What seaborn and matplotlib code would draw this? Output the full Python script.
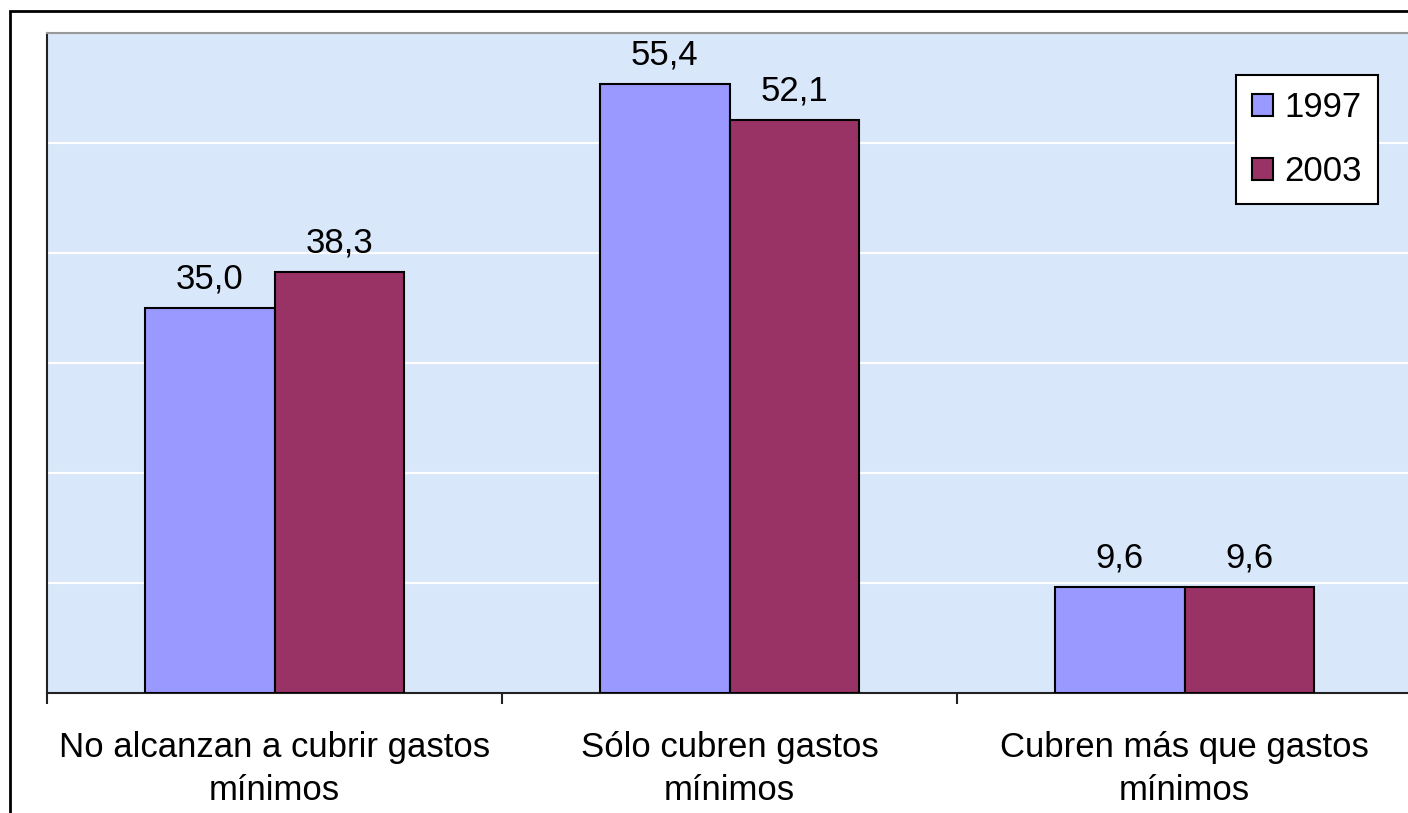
import seaborn as sns
import pandas as pd
import matplotlib.pyplot as plt
from matplotlib.patches import Rectangle

categories = ["No alcanzan a cubrir gastos\nmínimos",
              "Sólo cubren gastos\nmínimos",
              "Cubren más que gastos\nmínimos"]
years = ["1997", "2003"]
v1997 = [35.0, 55.4, 9.6]
v2003 = [38.3, 52.1, 9.6]
colors = ["#9999FF", "#993366"]

df = pd.DataFrame({"categoria": categories * 2,
                   "anio": [years[0]] * 3 + [years[1]] * 3,
                   "valor": v1997 + v2003})

sns.set_style("white")
plt.rcParams['font.family'] = ['Liberation Sans', 'DejaVu Sans']
plt.rcParams['text.color'] = 'black'
plt.rcParams['xtick.color'] = 'black'
plt.rcParams['xtick.labelcolor'] = 'black'

W, H = 1408, 813
fig = plt.figure(figsize=(W / 100, H / 100), dpi=100)
ax = fig.add_axes([47 / W, (H - 693) / H, 1365 / W, 660 / H])
ax.set_facecolor("#d9e7fa")

sns.barplot(data=df, x="categoria", y="valor", hue="anio", palette=colors,
            width=0.571, saturation=1, edgecolor="black", linewidth=1.5,
            ax=ax, zorder=3)

for cont in ax.containers:
    ax.bar_label(cont, labels=[f"{v:.1f}".replace(".", ",") for v in cont.datavalues],
                 padding=9, fontsize=25, color="black")

ax.set_ylim(0, 60)
ax.set_xlim(-0.5, 2.5)
ax.set_yticks([10, 20, 30, 40, 50])
ax.set_yticklabels([])
ax.tick_params(axis="y", length=0)
ax.yaxis.grid(True, color="white", linewidth=1.5, zorder=0)
ax.set_axisbelow(True)

ax.set_xticks([0, 1, 2])
ax.set_xticklabels(categories, fontsize=25, linespacing=1.4, color="black")
ax.set_xticks([-0.5, 0.5, 1.5, 2.5], minor=True)
ax.tick_params(axis="x", which="major", bottom=True, length=0, pad=27)
ax.tick_params(axis="x", which="minor", bottom=True, length=8, width=1.5,
               color="#222222", direction="out")
ax.set_xlabel("")
ax.set_ylabel("")

for s in ["left", "bottom"]:
    ax.spines[s].set_color("#222222")
    ax.spines[s].set_linewidth(1.5)
ax.spines["top"].set_color("#999999")
ax.spines["top"].set_linewidth(1.5)
ax.spines["right"].set_visible(False)

leg = ax.legend(loc="upper right", bbox_to_anchor=(0.975, 0.936), borderaxespad=0,
                fontsize=25, frameon=True, fancybox=False, edgecolor="black",
                handlelength=0.6, handleheight=0.6, handletextpad=0.35,
                labelspacing=0.9, borderpad=0.45)
leg.get_frame().set_linewidth(1.5)
leg.get_frame().set_facecolor("white")
leg.get_frame().set_alpha(1)
for t in leg.get_texts():
    t.set_color("black")

fig.patches.append(Rectangle((10 / W, -0.1), 1.2, 1 - 11 / H + 0.1,
                             transform=fig.transFigure, fill=False,
                             edgecolor="black", linewidth=2))

fig.savefig("out.png", dpi=100)
